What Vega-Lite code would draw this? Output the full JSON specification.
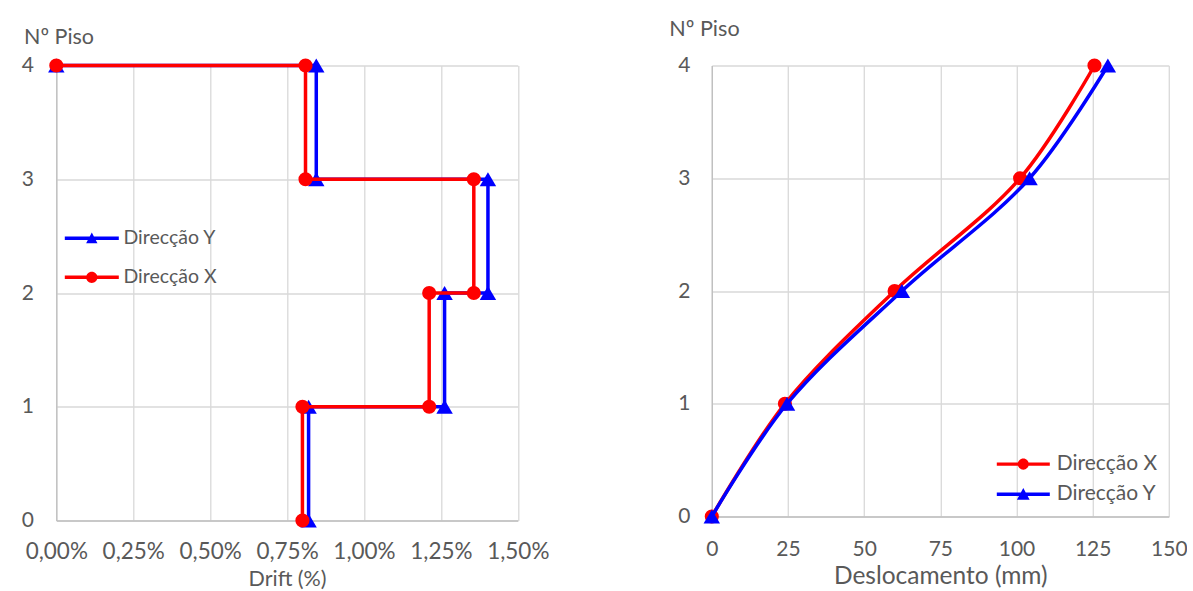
{
  "$schema": "https://vega.github.io/schema/vega-lite/v6.json",
  "padding": {"left": 20.3, "top": 18.5, "right": 0, "bottom": 0},
  "spacing": 119.5,
  "config": {
    "font": "Lato",
    "view": {"stroke": null},
    "axis": {
      "labelColor": "#595959", "titleColor": "#595959",
      "gridColor": "#D9D9D9", "gridWidth": 1.3,
      "domainColor": "#BFBFBF", "domainWidth": 1.3,
      "ticks": false, "tickSize": 0, "titleFontWeight": "normal",
      "labelOverlap": false, "labelFlush": false
    },
    "legend": {"labelColor": "#595959", "padding": 0, "symbolStrokeWidth": 0, "title": null}
  },
  "resolve": {"scale": {"color": "independent"}, "legend": {"color": "independent"}},
  "hconcat": [
    {
      "width": 461.5,
      "height": 455,
      "data": {"values": [
        {"dir": "Direcção Y", "i": 1, "drift": 0, "piso": 4},
        {"dir": "Direcção Y", "i": 2, "drift": 0.845, "piso": 4},
        {"dir": "Direcção Y", "i": 3, "drift": 0.845, "piso": 3},
        {"dir": "Direcção Y", "i": 4, "drift": 1.403, "piso": 3},
        {"dir": "Direcção Y", "i": 5, "drift": 1.403, "piso": 2},
        {"dir": "Direcção Y", "i": 6, "drift": 1.262, "piso": 2},
        {"dir": "Direcção Y", "i": 7, "drift": 1.262, "piso": 1},
        {"dir": "Direcção Y", "i": 8, "drift": 0.82, "piso": 1},
        {"dir": "Direcção Y", "i": 9, "drift": 0.82, "piso": 0},
        {"dir": "Direcção X", "i": 1, "drift": 0, "piso": 4},
        {"dir": "Direcção X", "i": 2, "drift": 0.81, "piso": 4},
        {"dir": "Direcção X", "i": 3, "drift": 0.81, "piso": 3},
        {"dir": "Direcção X", "i": 4, "drift": 1.357, "piso": 3},
        {"dir": "Direcção X", "i": 5, "drift": 1.357, "piso": 2},
        {"dir": "Direcção X", "i": 6, "drift": 1.212, "piso": 2},
        {"dir": "Direcção X", "i": 7, "drift": 1.212, "piso": 1},
        {"dir": "Direcção X", "i": 8, "drift": 0.8, "piso": 1},
        {"dir": "Direcção X", "i": 9, "drift": 0.8, "piso": 0}
      ]},
      "encoding": {
        "x": {
          "field": "drift", "type": "quantitative",
          "scale": {"domain": [0, 1.5], "nice": false, "zero": false},
          "axis": {
            "title": "Drift (%)", "values": [0, 0.25, 0.5, 0.75, 1, 1.25, 1.5],
            "labelExpr": "replace(format(datum.value, '.2f'), '.', ',') + '%'",
            "labelFontSize": 22.5, "labelBaseline": "alphabetic", "labelPadding": 38.3,
            "titleFontSize": 21.5, "titleBaseline": "alphabetic", "titleY": 65
          }
        },
        "y": {
          "field": "piso", "type": "quantitative",
          "scale": {"domain": [0, 4], "nice": false},
          "axis": {
            "title": "Nº Piso", "values": [0, 1, 2, 3, 4], "format": "d",
            "labelFontSize": 21, "labelPadding": 23,
            "titleAngle": 0, "titleAlign": "left", "titleBaseline": "alphabetic",
            "titleX": -32.8, "titleY": -21.7, "titleFontSize": 21.5
          }
        },
        "order": {"field": "i"},
        "color": {
          "field": "dir", "type": "nominal",
          "scale": {"domain": ["Direcção Y", "Direcção X"], "range": ["#0000FF", "#FF0000"]},
          "legend": {
            "orient": "none", "legendX": 8.5, "legendY": 145.7,
            "symbolSize": 100, "labelFontSize": 19.5, "labelOffset": 4.7, "rowPadding": 2.1,
            "encode": {"symbols": {"update": {
              "shape": {"signal": "datum.value === 'Direcção X' ? 'M-1,-0.065H1V0.065H-1Z M-0.21,0A0.21,0.21 0 1,1 0.21,0A0.21,0.21 0 1,1 -0.21,0Z' : 'M-1,-0.065H1V0.065H-1Z M0,-0.21L0.21,0.19H-0.21Z'"},
              "size": {"value": 2916},
              "opacity": {"value": 1}
            }}}
          }
        }
      },
      "layer": [
        {"transform": [{"filter": "datum.dir === 'Direcção Y'"}], "mark": {"type": "line", "strokeWidth": 3.5}},
        {"transform": [{"filter": "datum.dir === 'Direcção Y'"}], "mark": {"type": "point", "filled": true, "opacity": 1, "size": 270, "shape": "triangle-up"}},
        {"transform": [{"filter": "datum.dir === 'Direcção X'"}], "mark": {"type": "line", "strokeWidth": 3.5}},
        {"transform": [{"filter": "datum.dir === 'Direcção X'"}], "mark": {"type": "point", "filled": true, "opacity": 1, "size": 200, "shape": "circle"}}
      ]
    },
    {
      "width": 457,
      "height": 451,
      "data": {"values": [
        {"dir": "Direcção X", "desl": 0, "piso": 0},
        {"dir": "Direcção X", "desl": 24, "piso": 1},
        {"dir": "Direcção X", "desl": 60, "piso": 2},
        {"dir": "Direcção X", "desl": 101.2, "piso": 3},
        {"dir": "Direcção X", "desl": 125.6, "piso": 4},
        {"dir": "Direcção Y", "desl": 0, "piso": 0},
        {"dir": "Direcção Y", "desl": 24.7, "piso": 1},
        {"dir": "Direcção Y", "desl": 62.4, "piso": 2},
        {"dir": "Direcção Y", "desl": 104.3, "piso": 3},
        {"dir": "Direcção Y", "desl": 130, "piso": 4}
      ]},
      "encoding": {
        "x": {
          "field": "desl", "type": "quantitative",
          "scale": {"domain": [0, 150], "nice": false},
          "axis": {
            "title": "Deslocamento (mm)", "values": [0, 25, 50, 75, 100, 125, 150], "format": "d",
            "labelFontSize": 21, "labelBaseline": "alphabetic", "labelPadding": 39.5,
            "titleFontSize": 24.5, "titleBaseline": "alphabetic", "titleY": 67.5
          }
        },
        "y": {
          "field": "piso", "type": "quantitative",
          "scale": {"domain": [0, 4], "nice": false},
          "axis": {
            "title": "Nº Piso", "values": [0, 1, 2, 3, 4], "format": "d",
            "labelFontSize": 21, "labelPadding": 22,
            "titleAngle": 0, "titleAlign": "left", "titleBaseline": "alphabetic",
            "titleX": -43, "titleY": -30, "titleFontSize": 21.6
          }
        },
        "order": {"field": "piso"},
        "color": {
          "field": "dir", "type": "nominal",
          "scale": {"domain": ["Direcção X", "Direcção Y"], "range": ["#FF0000", "#0000FF"]},
          "legend": {
            "orient": "none", "legendX": 285, "legendY": 388.6,
            "symbolSize": 100, "labelFontSize": 21, "labelOffset": 7, "rowPadding": 9.1,
            "encode": {
              "symbols": {"update": {
                "shape": {"signal": "datum.value === 'Direcção X' ? 'M-1,-0.065H1V0.065H-1Z M-0.21,0A0.21,0.21 0 1,1 0.21,0A0.21,0.21 0 1,1 -0.21,0Z' : 'M-1,-0.065H1V0.065H-1Z M0,-0.23L0.24,0.21H-0.24Z'"},
                "size": {"value": 2809},
                "opacity": {"value": 1},
                "y": {"value": 10}
              }},
              "labels": {"update": {"y": {"value": 10}}}
            }
          }
        }
      },
      "layer": [
        {"transform": [{"filter": "datum.dir === 'Direcção X'"}], "mark": {"type": "line", "strokeWidth": 3.5, "interpolate": "catmull-rom"}},
        {"transform": [{"filter": "datum.dir === 'Direcção X'"}], "mark": {"type": "point", "filled": true, "opacity": 1, "size": 200, "shape": "circle"}},
        {"transform": [{"filter": "datum.dir === 'Direcção Y'"}], "mark": {"type": "line", "strokeWidth": 3.5, "interpolate": "catmull-rom"}},
        {"transform": [{"filter": "datum.dir === 'Direcção Y'"}], "mark": {"type": "point", "filled": true, "opacity": 1, "size": 270, "shape": "triangle-up"}}
      ]
    }
  ]
}
